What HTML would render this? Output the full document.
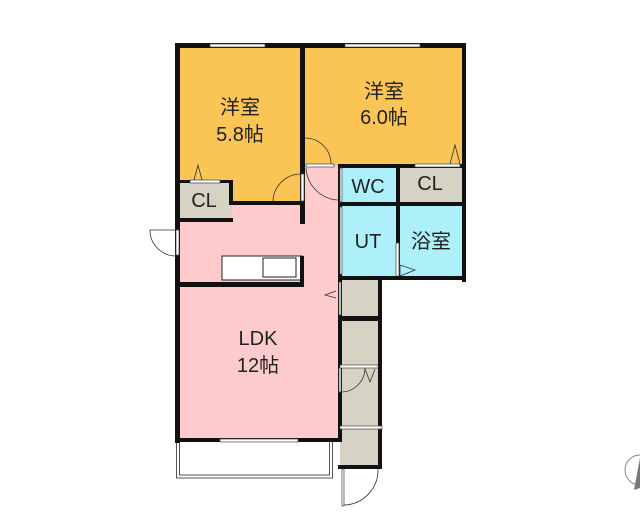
<!DOCTYPE html>
<html><head><meta charset="utf-8"><style>
html,body{margin:0;padding:0;background:#fff;width:640px;height:512px;overflow:hidden}
svg{display:block}
text{font-family:"Liberation Sans","Noto Sans CJK JP",sans-serif;fill:#222}
</style></head><body>
<svg width="640" height="512" viewBox="0 0 640 512">
<rect x="178" y="46" width="125" height="157" fill="#fbc556"/>
<rect x="303" y="46" width="161" height="120" fill="#fbc556"/>
<rect x="178" y="203" width="162" height="238" fill="#fecbcc"/>
<rect x="303" y="166" width="37" height="40" fill="#fecbcc"/>
<rect x="178" y="181" width="54" height="39" fill="#d6d2c4"/>
<rect x="340" y="166" width="58" height="38" fill="#aef0fa"/>
<rect x="340" y="204" width="124" height="74" fill="#aef0fa"/>
<rect x="398" y="166" width="66" height="38" fill="#d6d2c4"/>
<rect x="340" y="280" width="40" height="188" fill="#d6d2c4"/>
<rect x="222" y="256" width="80" height="24" fill="#fff" stroke="#222" stroke-width="1"/>
<rect x="263" y="258" width="33" height="19" fill="#fff" stroke="#222" stroke-width="1"/>
<rect x="176.5" y="441" width="156" height="37" fill="#fff" stroke="#555" stroke-width="1"/>
<rect x="179.5" y="441" width="150" height="34" fill="none" stroke="#555" stroke-width="1"/>
<g fill="#111">
<rect x="176" y="43" width="290" height="5"/>
<rect x="175" y="43" width="5" height="400"/>
<rect x="462" y="43" width="4" height="239"/>
<rect x="300" y="43" width="5" height="181"/>
<rect x="176" y="180" width="57" height="3"/>
<rect x="229" y="180" width="4" height="24"/>
<rect x="176" y="218" width="57" height="4"/>
<rect x="229" y="201" width="76" height="4"/>
<rect x="338" y="164" width="128" height="4"/>
<rect x="338" y="164" width="4" height="278"/>
<rect x="338" y="202" width="128" height="4"/>
<rect x="396" y="164" width="4" height="114"/>
<rect x="338" y="276" width="128" height="4"/>
<rect x="176" y="282" width="128" height="5"/>
<rect x="300" y="256" width="4" height="31"/>
<rect x="176" y="438" width="166" height="4"/>
<rect x="378" y="276" width="4" height="193"/>
<rect x="338" y="316" width="44" height="5"/>
<rect x="338" y="465" width="44" height="4"/>
</g>
<g fill="#fff" stroke="#444" stroke-width="0.7">
<rect x="210" y="44" width="55" height="3"/>
<rect x="345" y="44" width="75" height="3"/>
<rect x="220" y="439" width="78" height="3"/>
<rect x="190" y="180" width="30" height="3"/>
<rect x="415" y="164" width="45" height="3"/>
<rect x="306" y="164" width="28" height="3"/>
<rect x="301" y="174" width="3" height="27"/>
<rect x="340" y="168" width="2" height="34"/>
<rect x="340" y="207" width="2" height="67"/>
<rect x="396" y="243" width="3" height="33"/>
<rect x="339" y="282" width="2" height="33"/>
<rect x="339" y="368" width="2" height="24"/>
<rect x="176" y="230" width="3" height="25"/>
<rect x="340" y="365" width="38" height="3"/>
<rect x="340" y="426" width="42" height="3"/>
<rect x="342" y="469" width="2" height="37"/>
</g>
<g fill="none" stroke="#333" stroke-width="0.8">
<path d="M273 202 A28 28 0 0 1 301 174"/>
<path d="M305 138 A26 26 0 0 1 331 164"/>
<path d="M306 168 A34 34 0 0 0 338 200"/>
<path d="M176 230 L150 230 A26 26 0 0 0 176 256"/>
<path d="M341 392 A24 24 0 0 0 365 368"/>
<path d="M344 505 A35 35 0 0 0 378 469"/>
<path d="M194 180 L198 165 L202 180"/>
<path d="M450 164 L455 145 L460 164"/>
<path d="M400 276 L400 265 L415 270 Z"/>
<path d="M336 291 L325 295 L336 298"/>
<path d="M365 369 L370 382 L375 369"/>
</g>
<circle cx="640" cy="470" r="15" fill="none" stroke="#888" stroke-width="1"/>
<path d="M640 458 L634 490 L640 488Z" fill="#777"/>
<g font-size="20" text-anchor="middle">
<text x="240" y="114">洋室</text>
<text x="240" y="141">5.8帖</text>
<text x="384" y="98">洋室</text>
<text x="384" y="124">6.0帖</text>
<text x="258" y="345">LDK</text>
<text x="258" y="372">12帖</text>
<text x="368" y="193">WC</text>
<text x="430" y="190">CL</text>
<text x="204" y="207">CL</text>
<text x="368" y="248">UT</text>
<text x="431" y="248">浴室</text>
</g>
</svg>
</body></html>
